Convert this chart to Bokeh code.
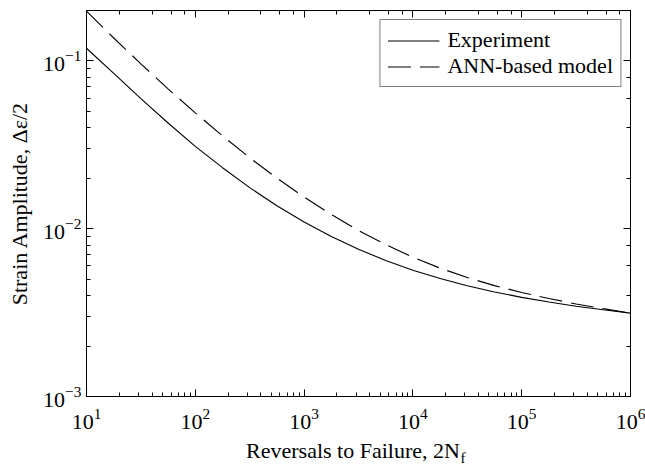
from bokeh.plotting import figure
from bokeh.models import (LogAxis, Legend, LegendItem, Title, Range1d, LogTicker,
                          CustomJSTickFormatter)
from bokeh.embed import file_html
from bokeh.resources import INLINE

# Strain-life data: reversals to failure vs. strain amplitude (quarter-decade steps)
reversals = [10, 17.8, 31.6, 56.2, 100, 178, 316, 562, 1000, 1780, 3160, 5620,
             10000, 17800, 31600, 56200, 100000, 178000, 316000, 562000, 1000000]
experiment = [0.1191, 0.0843, 0.0597, 0.0427, 0.0310, 0.02312, 0.01758, 0.01371,
              0.01096, 0.00899, 0.00755, 0.00647, 0.00566, 0.00505, 0.00457,
              0.00420, 0.00390, 0.00366, 0.00345, 0.00329, 0.00314]
ann_model = [0.1982, 0.1371, 0.0962, 0.0682, 0.0491, 0.0358, 0.0265, 0.02004,
             0.01545, 0.01216, 0.00977, 0.00804, 0.00676, 0.00582, 0.00512,
             0.00458, 0.00417, 0.00384, 0.00356, 0.00334, 0.00314]

x_limits = (10, 1e6)
y_limits = (1e-3, 0.2)

FONT = "Liberation Serif"
FSIZE = "22px"

p = figure(width=645, height=466, x_axis_type="log", y_axis_type="log",
           x_range=Range1d(*x_limits), y_range=Range1d(*y_limits),
           output_backend="svg", toolbar_location=None,
           min_border_left=86, min_border_right=15,
           min_border_top=10, min_border_bottom=70)

p.grid.visible = False
p.outline_line_color = "black"
p.outline_line_width = 1
p.background_fill_color = "white"
p.border_fill_color = "white"

r_exp = p.line(reversals, experiment, line_color="black", line_width=1.1)
r_ann = p.line(reversals, ann_model, line_color="black", line_width=1.1,
               line_dash="23 9")


def style_axis(ax):
    ax.axis_line_color = "black"
    ax.major_tick_line_color = "black"
    ax.minor_tick_line_color = "black"
    ax.major_tick_in = 7
    ax.major_tick_out = 0
    ax.minor_tick_in = 4
    ax.minor_tick_out = 0
    ax.major_label_text_font = FONT
    ax.major_label_text_font_size = FSIZE
    ax.major_label_text_color = "black"


xa = p.xaxis[0]
ya = p.yaxis[0]
style_axis(xa)
style_axis(ya)
xa.major_label_standoff = 12
ya.major_label_standoff = 5

# non-breaking spaces leave room for the subscript so the whole title stays centred
xa.axis_label = "Reversals to Failure, 2N\u00a0\u00a0"
ya.axis_label = "Strain Amplitude, Δε/2"
for ax in (xa, ya):
    ax.axis_label_text_font = FONT
    ax.axis_label_text_font_size = FSIZE
    ax.axis_label_text_font_style = "normal"
    ax.axis_label_text_color = "black"
xa.axis_label_standoff = 6
ya.axis_label_standoff = 8

# mirrored tick marks on the top and right edges, without labels
blank = CustomJSTickFormatter(code="return '';")
for side in ("above", "right"):
    ax = LogAxis(ticker=LogTicker(), formatter=blank)
    style_axis(ax)
    ax.major_label_standoff = 0
    ax.major_label_text_font_size = "1px"
    p.add_layout(ax, side)

# subscript "f" of 2N_f, pulled up beside the axis title
sub_f = Title(text="f", align="left", offset=374, standoff=-32,
              vertical_align="top",
              text_font=FONT, text_font_size="15px", text_font_style="normal",
              text_color="black")
p.add_layout(sub_f, "below")

legend = Legend(items=[LegendItem(label="Experiment", renderers=[r_exp]),
                       LegendItem(label="ANN-based model", renderers=[r_ann])],
                location="top_right", margin=9, padding=7, spacing=0,
                glyph_width=52, glyph_height=25, label_height=25,
                label_standoff=8,
                label_text_font=FONT, label_text_font_size=FSIZE,
                label_text_color="black",
                border_line_color="black", border_line_width=1,
                background_fill_color="white", background_fill_alpha=1)
p.add_layout(legend)

open("out.html", "w").write(file_html(p, INLINE))
